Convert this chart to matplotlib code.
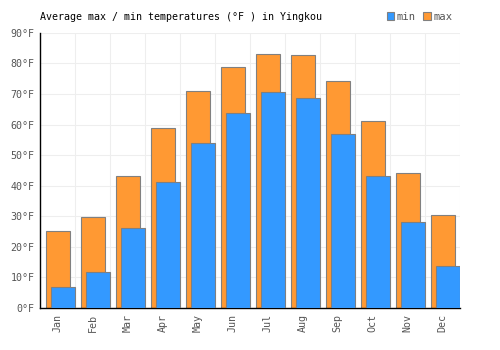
import matplotlib
matplotlib.use("Agg")
import matplotlib.pyplot as plt
import numpy as np

months = ["Jan", "Feb", "Mar", "Apr", "May", "Jun",
          "Jul", "Aug", "Sep", "Oct", "Nov", "Dec"]
temp_max = [25.1, 29.7, 43.1, 58.9, 71.0, 78.8, 83.0, 82.7, 74.2, 61.1, 44.1, 30.3]
temp_min = [6.8, 11.7, 26.1, 41.1, 54.0, 63.7, 70.6, 68.6, 56.8, 43.1, 28.0, 13.6]
y_ticks = [0, 10, 20, 30, 40, 50, 60, 70, 80, 90]

BLUE = "#3399ff"
ORANGE = "#ff9933"
EDGE = "#808080"
TEXT = "#555555"

plt.rcParams["font.family"] = ["DejaVu Sans Mono"]

fig = plt.figure(figsize=(5, 3.5), dpi=100)
ax = fig.add_axes([0.08, 0.12, 0.84, 0.786])

x = np.arange(len(months))
ax.bar(x + 0.18, temp_max, width=0.67, align="edge", color=ORANGE,
       edgecolor=EDGE, linewidth=0.8, label="max", zorder=2)
ax.bar(x + 0.31, temp_min, width=0.69, align="edge", color=BLUE,
       edgecolor=EDGE, linewidth=0.8, label="min", zorder=3)

ax.set_xlim(0, 12)
ax.set_ylim(0, 90)

ax.set_yticks(y_ticks)
ax.set_yticklabels([f"{v}°F" for v in y_ticks], fontsize=7.2, color=TEXT)
ax.set_xticks(x + 0.5)
ax.set_xticklabels(months, rotation=90, fontsize=7.2, color=TEXT)
ax.set_xticks(np.arange(0, 13), minor=True)
ax.tick_params(axis="both", which="both", length=0, pad=4)

ax.grid(True, which="minor", axis="x", color="#eeeeee", lw=0.8, zorder=0)
ax.grid(True, which="major", axis="y", color="#eeeeee", lw=0.8, zorder=0)
ax.grid(False, which="major", axis="x")

for side in ["top", "right"]:
    ax.spines[side].set_visible(False)
ax.spines["left"].set_color("black")
ax.spines["bottom"].set_color("black")
ax.spines["left"].set_linewidth(1)
ax.spines["bottom"].set_linewidth(1)

fig.text(0.08, 0.952, "Average max / min temperatures (°F ) in Yingkou",
         fontsize=7.2, color="black", va="center", ha="left")

handles, labels = ax.get_legend_handles_labels()
ax.legend(handles[::-1], labels[::-1], ncol=2, frameon=False, fontsize=7.6,
          loc="center right", bbox_to_anchor=(0.905, 0.952),
          bbox_transform=fig.transFigure, handlelength=0.7, handleheight=0.7,
          handletextpad=0.25, columnspacing=0.7, labelcolor=TEXT,
          borderaxespad=0, borderpad=0)

fig.savefig("out.png", dpi=100)
